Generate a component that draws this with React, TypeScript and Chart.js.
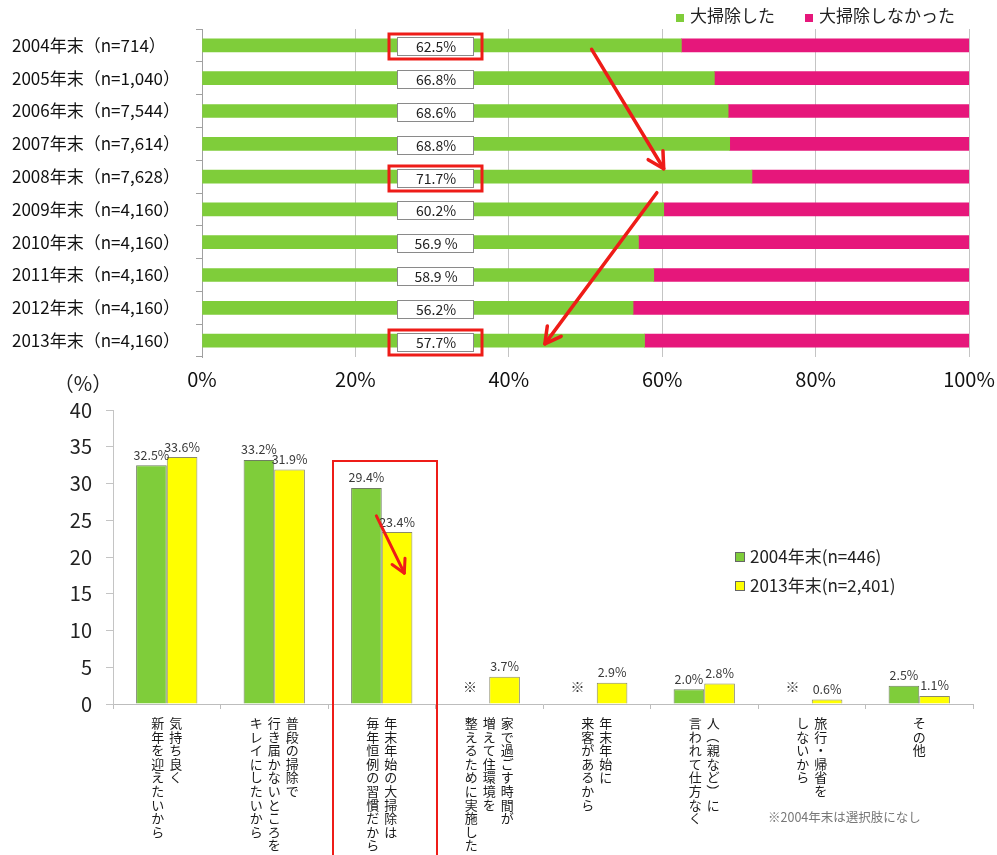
import React, { useEffect, useRef } from 'react';
import { Chart, registerables } from 'chart.js';

Chart.register(...registerables);

const FONT = "'Noto Sans CJK JP', 'Noto Sans', sans-serif";

// ---------- top chart data ----------
const surveyYears = [
  '2004年末（n=714）',
  '2005年末（n=1,040）',
  '2006年末（n=7,544）',
  '2007年末（n=7,614）',
  '2008年末（n=7,628）',
  '2009年末（n=4,160）',
  '2010年末（n=4,160）',
  '2011年末（n=4,160）',
  '2012年末（n=4,160）',
  '2013年末（n=4,160）',
];
const cleanedPct = [62.5, 66.8, 68.6, 68.8, 71.7, 60.2, 56.9, 58.9, 56.2, 57.7];
const notCleanedPct = [37.5, 33.2, 31.4, 31.2, 28.3, 39.8, 43.1, 41.1, 43.8, 42.3];
const cleanedLabels = ['62.5%', '66.8%', '68.6%', '68.8%', '71.7%', '60.2%', '56.9 %', '58.9 %', '56.2%', '57.7%'];
const highlightedRows = [0, 4, 9];
const topLegend = ['大掃除した', '大掃除しなかった'];
// annotation arrows in data units: [x1%, row1, x2%, row2]
const topArrows = [
  [50.8, 0.12, 60.2, 3.76],
  [59.3, 4.49, 44.7, 9.1],
];

// ---------- bottom chart data ----------
const reasonLines = [
  ['気持ち良く', '新年を迎えたいから'],
  ['普段の掃除で', '行き届かないところを', 'キレイにしたいから'],
  ['年末年始の大掃除は', '毎年恒例の習慣だから'],
  ['家で過ごす時間が', '増えて住環境を', '整えるために実施した'],
  ['年末年始に', '来客があるから'],
  ['人（親など）に', '言われて仕方なく'],
  ['旅行・帰省を', 'しないから'],
  ['その他'],
];
const pct2004: (number | null)[] = [32.5, 33.2, 29.4, null, null, 2.0, null, 2.5];
const pct2013 = [33.6, 31.9, 23.4, 3.7, 2.9, 2.8, 0.6, 1.1];
const bottomSeries = ['2004年末(n=446)', '2013年末(n=2,401)'];
const highlightedReason = 2;
// arrow in data units: [xCat1, y1, xCat2, y2]
const bottomArrow = [1.95, 25.6, 2.21, 17.8];
const footnote = '※2004年末は選択肢になし';

const GREEN = '#7fcd3a';
const PINK = '#e6177b';
const YELLOW = '#ffff00';
const RED = '#ee1c18';

function drawArrow(ctx: CanvasRenderingContext2D, x1: number, y1: number, x2: number, y2: number, w: number, head: number) {
  ctx.save();
  ctx.strokeStyle = RED;
  ctx.lineWidth = w;
  ctx.lineCap = 'round';
  ctx.lineJoin = 'round';
  ctx.beginPath();
  ctx.moveTo(x1, y1);
  ctx.lineTo(x2, y2);
  ctx.stroke();
  const a = Math.atan2(y2 - y1, x2 - x1);
  ctx.beginPath();
  ctx.moveTo(x2 - head * Math.cos(a - 0.5), y2 - head * Math.sin(a - 0.5));
  ctx.lineTo(x2, y2);
  ctx.lineTo(x2 - head * Math.cos(a + 0.5), y2 - head * Math.sin(a + 0.5));
  ctx.stroke();
  ctx.restore();
}

const topOverlay = {
  id: 'topOverlay',
  afterDatasetsDraw(chart: any) {
    const { ctx, chartArea, scales } = chart;
    const x = scales.x;
    const y = scales.y;
    ctx.save();
    const cx = Math.round(x.getPixelForValue(30.4));
    cleanedLabels.forEach((t, i) => {
      const cy = Math.round(y.getPixelForValue(i)) + 1;
      ctx.fillStyle = '#ffffff';
      ctx.fillRect(cx - 38, cy - 9, 77, 19);
      ctx.strokeStyle = '#8a8a8a';
      ctx.lineWidth = 1;
      ctx.strokeRect(cx - 38 + 0.5, cy - 9 + 0.5, 76, 18);
      ctx.fillStyle = '#222';
      ctx.font = `14px ${FONT}`;
      ctx.textAlign = 'center';
      ctx.textBaseline = 'middle';
      ctx.fillText(t, cx + 1, cy + 1);
    });
    highlightedRows.forEach((i) => {
      const cy = Math.round(y.getPixelForValue(i)) + 1;
      ctx.strokeStyle = RED;
      ctx.lineWidth = 3;
      ctx.strokeRect(cx - 46, cy - 12, 93, 25);
    });
    topArrows.forEach(([a, b, c, d]) => {
      drawArrow(ctx, x.getPixelForValue(a), y.getPixelForValue(b), x.getPixelForValue(c), y.getPixelForValue(d), 3.5, 18);
    });
    // legend
    const colors = [GREEN, PINK];
    const offsets = [293, 164];
    ctx.font = `17px ${FONT}`;
    ctx.textAlign = 'left';
    ctx.textBaseline = 'middle';
    topLegend.forEach((t, i) => {
      const lx = chartArea.right - offsets[i];
      const ly = chartArea.top - 12;
      ctx.fillStyle = colors[i];
      ctx.fillRect(lx, ly - 3, 8, 8);
      ctx.fillStyle = '#222';
      ctx.fillText(t, lx + 14, ly - 1);
    });
    ctx.restore();
  },
};

const bottomOverlay = {
  id: 'bottomOverlay',
  afterDraw(chart: any) {
    const { ctx, chartArea, scales } = chart;
    const x = scales.x;
    const y = scales.y;
    ctx.save();
    // value labels
    ctx.font = `12.5px ${FONT}`;
    ctx.fillStyle = '#3a3a3a';
    ctx.textAlign = 'center';
    ctx.textBaseline = 'bottom';
    [pct2004, pct2013].forEach((arr, di) => {
      const meta = chart.getDatasetMeta(di);
      arr.forEach((v, i) => {
        const el = meta.data[i];
        if (v === null || v === undefined) return;
        ctx.fillText(v.toFixed(1) + '%', el.x, el.y - 4);
      });
    });
    // ※ for missing 2004 values
    const meta1 = chart.getDatasetMeta(1);
    ctx.font = `14px ${FONT}`;
    ctx.textBaseline = 'middle';
    pct2004.forEach((v, i) => {
      if (v !== null) return;
      const el = meta1.data[i];
      ctx.fillText('※', el.x - el.width - 4, y.getPixelForValue(2.4));
    });
    // red highlight box
    const half = (x.getPixelForValue(1) - x.getPixelForValue(0)) / 2;
    const hc = x.getPixelForValue(highlightedReason);
    ctx.strokeStyle = RED;
    ctx.lineWidth = 2;
    ctx.strokeRect(Math.round(hc - half + 5), Math.round(y.getPixelForValue(33)), Math.round(2 * half - 4), chart.height);
    // arrow
    const [a, b, c, d] = bottomArrow;
    drawArrow(ctx, x.getPixelForValue(a), y.getPixelForValue(b), x.getPixelForValue(c), y.getPixelForValue(d), 3, 15);
    // vertical category labels
    ctx.fillStyle = '#1a1a1a';
    ctx.font = `13px ${FONT}`;
    ctx.textAlign = 'center';
    ctx.textBaseline = 'middle';
    reasonLines.forEach((cols, i) => {
      const center = x.getPixelForValue(i);
      const n = cols.length;
      cols.forEach((col, k) => {
        const colX = center + ((n - 1) / 2 - k) * 18;
        Array.from(col).forEach((ch, j) => {
          const cy = chartArea.bottom + 19 + j * 13.6;
          if (ch === '（' || ch === '）') {
            ctx.save();
            ctx.translate(colX, cy);
            ctx.rotate(Math.PI / 2);
            ctx.fillText(ch, 0, 0);
            ctx.restore();
          } else {
            ctx.fillText(ch, colX, cy);
          }
        });
      });
    });
    // (%) unit label
    ctx.fillStyle = '#222';
    ctx.font = `20px ${FONT}`;
    ctx.textAlign = 'center';
    ctx.fillText('（%）', chartArea.left - 30, chartArea.top - 27);
    // legend
    const lColors = [GREEN, YELLOW];
    const lys = [chartArea.top + 147, chartArea.top + 176];
    ctx.font = `17px ${FONT}`;
    ctx.textAlign = 'left';
    bottomSeries.forEach((t, i) => {
      const lx = chartArea.left + 622;
      ctx.fillStyle = lColors[i];
      ctx.fillRect(lx, lys[i] - 5, 10, 10);
      ctx.strokeStyle = '#666';
      ctx.lineWidth = 1;
      ctx.strokeRect(lx + 0.5, lys[i] - 5 + 0.5, 9, 9);
      ctx.fillStyle = '#222';
      ctx.fillText(t, lx + 15, lys[i]);
    });
    // footnote
    ctx.fillStyle = '#777';
    ctx.font = `12.5px ${FONT}`;
    ctx.fillText(footnote, chartArea.left + 655, chartArea.bottom + 113);
    ctx.restore();
  },
};

export default function App() {
  const topRef = useRef<HTMLCanvasElement>(null);
  const botRef = useRef<HTMLCanvasElement>(null);

  useEffect(() => {
    const top = new Chart(topRef.current!, {
      type: 'bar',
      data: {
        labels: surveyYears,
        datasets: [
          { label: topLegend[0], data: cleanedPct, backgroundColor: GREEN, barThickness: 13, borderWidth: 0 },
          { label: topLegend[1], data: notCleanedPct, backgroundColor: PINK, barThickness: 13, borderWidth: 0 },
        ],
      },
      options: {
        indexAxis: 'y',
        responsive: false,
        maintainAspectRatio: false,
        animation: false,
        events: [],
        layout: { padding: { left: 12, right: 28, top: 29, bottom: 13 } },
        plugins: { legend: { display: false }, tooltip: { enabled: false } },
        scales: {
          x: {
            stacked: true,
            min: 0,
            max: 100,
            afterFit: (s: any) => { s.height = 30; s.paddingLeft = 0; s.paddingRight = 0; },
            ticks: {
              stepSize: 20,
              callback: (v: any) => v + '%',
              font: { size: 20, family: FONT },
              color: '#111',
              padding: 10,
              maxRotation: 0,
            },
            grid: { color: '#c4c4c4', drawTicks: false },
            border: { display: false },
          },
          y: {
            stacked: true,
            afterFit: (s: any) => { s.width = 190; s.paddingTop = 0; s.paddingBottom = 0; },
            ticks: { crossAlign: 'far', font: { size: 17, family: FONT }, color: '#111' },
            grid: { offset: true, drawOnChartArea: false, drawTicks: true, tickLength: 6, color: '#a0a0a0' },
            border: { display: true, color: '#a0a0a0' },
          },
        },
      },
      plugins: [topOverlay],
    } as any);

    const bottom = new Chart(botRef.current!, {
      type: 'bar',
      data: {
        labels: reasonLines.map((l) => l.join('')),
        datasets: [
          { label: bottomSeries[0], data: pct2004, backgroundColor: GREEN, borderColor: '#6f7f60', borderWidth: 1, categoryPercentage: 0.57, barPercentage: 1 },
          { label: bottomSeries[1], data: pct2013, backgroundColor: YELLOW, borderColor: '#8a8a6a', borderWidth: 1, categoryPercentage: 0.57, barPercentage: 1 },
        ],
      },
      options: {
        responsive: false,
        maintainAspectRatio: false,
        animation: false,
        events: [],
        layout: { padding: { left: 0, right: 24, top: 40, bottom: 0 } },
        plugins: { legend: { display: false }, tooltip: { enabled: false } },
        scales: {
          x: {
            afterFit: (s: any) => { s.height = 151; s.paddingLeft = 0; s.paddingRight = 0; },
            ticks: { display: false },
            grid: { offset: true, drawOnChartArea: false, drawTicks: true, tickLength: 5, color: '#bdbdbd' },
            border: { display: true, color: '#bdbdbd' },
          },
          y: {
            min: 0,
            max: 40,
            afterFit: (s: any) => { s.width = 113; s.paddingTop = 0; s.paddingBottom = 0; },
            ticks: { stepSize: 5, font: { size: 20, family: FONT }, color: '#222', padding: 14 },
            grid: { drawOnChartArea: false, drawTicks: true, tickLength: 7, color: '#c4c4c4' },
            border: { display: true, color: '#c4c4c4' },
          },
        },
      },
      plugins: [bottomOverlay],
    } as any);

    return () => {
      top.destroy();
      bottom.destroy();
    };
  }, []);

  return (
    <div style={{ position: 'absolute', left: 0, top: 0, width: 997, height: 855, background: '#ffffff', overflow: 'hidden' }}>
      <canvas ref={topRef} width={997} height={400} style={{ position: 'absolute', left: 0, top: 0 }} />
      <canvas ref={botRef} width={997} height={485} style={{ position: 'absolute', left: 0, top: 370 }} />
    </div>
  );
}
